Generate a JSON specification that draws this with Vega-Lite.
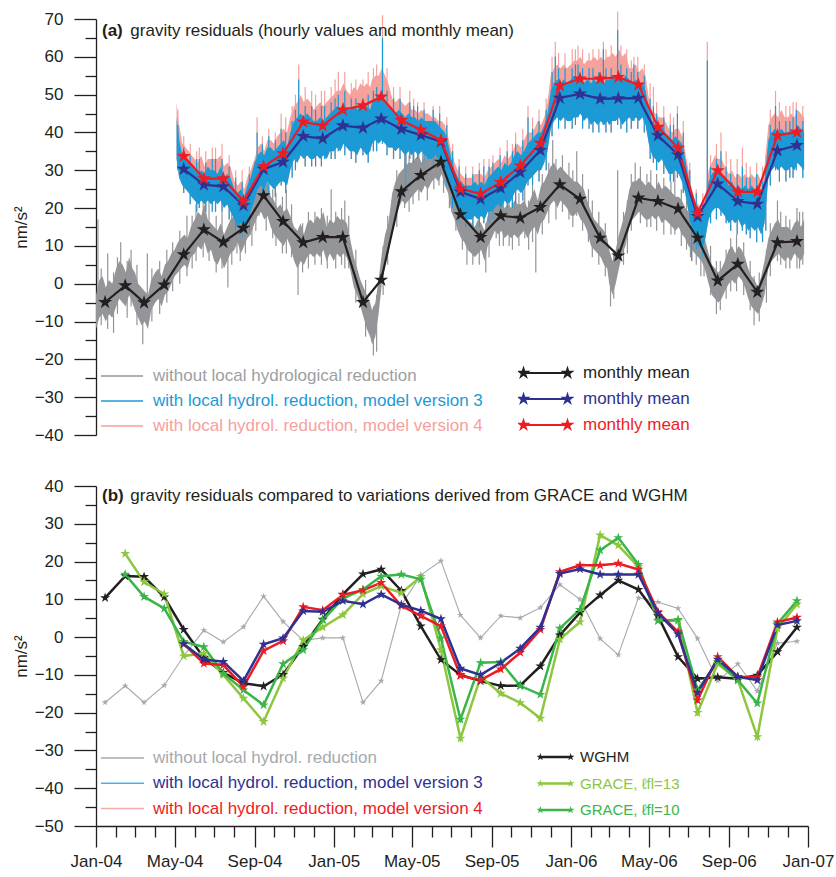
{
  "$schema": "https://vega.github.io/schema/vega-lite/v6.json",
  "background": "white",
  "padding": {"left": 12, "top": 10, "right": 5, "bottom": 5},
  "spacing": 34,
  "config": {
    "font": "Liberation Sans",
    "view": {"stroke": null},
    "axis": {
      "labelFont": "Liberation Sans", "labelFontSize": 17, "labelColor": "#231f20", "labelOverlap": false,
      "titleFont": "Liberation Sans", "titleFontSize": 17, "titleFontWeight": "normal", "titleColor": "#231f20",
      "domainColor": "#231f20", "domainWidth": 1.3, "tickColor": "#231f20", "tickWidth": 1.3, "grid": false
    },
    "legend": {"labelFont": "Liberation Sans", "labelFontSize": 17, "labelLimit": 600, "padding": 0}
  },
  "datasets": {
    "grayA": [
      {"d":"2004-01-01","lo":-12,"hi":-3},{"d":"2004-01-06","lo":-9,"hi":1},{"d":"2004-01-11","lo":-8,"hi":2},{"d":"2004-01-16","lo":-10,"hi":-1},{"d":"2004-01-21","lo":-8,"hi":1},{"d":"2004-01-26","lo":-9,"hi":0},
      {"d":"2004-02-01","lo":-6,"hi":4},{"d":"2004-02-06","lo":-4,"hi":6},{"d":"2004-02-11","lo":-5,"hi":5},{"d":"2004-02-16","lo":-6,"hi":3},{"d":"2004-02-21","lo":-3,"hi":7},{"d":"2004-02-26","lo":-5,"hi":4},
      {"d":"2004-03-01","lo":-7,"hi":3},{"d":"2004-03-06","lo":-9,"hi":0},{"d":"2004-03-11","lo":-11,"hi":-1},{"d":"2004-03-16","lo":-10,"hi":-2},{"d":"2004-03-21","lo":-12,"hi":-3},{"d":"2004-03-26","lo":-7,"hi":1},
      {"d":"2004-04-01","lo":-5,"hi":3},{"d":"2004-04-06","lo":-4,"hi":4},{"d":"2004-04-11","lo":-6,"hi":2},{"d":"2004-04-16","lo":-3,"hi":5},{"d":"2004-04-21","lo":-2,"hi":6},{"d":"2004-04-26","lo":0,"hi":8},
      {"d":"2004-05-01","lo":2,"hi":9},{"d":"2004-05-06","lo":3,"hi":11},{"d":"2004-05-11","lo":4,"hi":12},{"d":"2004-05-16","lo":5,"hi":13},{"d":"2004-05-21","lo":4,"hi":12},{"d":"2004-05-26","lo":7,"hi":15},
      {"d":"2004-06-01","lo":8,"hi":17},{"d":"2004-06-06","lo":10,"hi":19},{"d":"2004-06-11","lo":9,"hi":18},{"d":"2004-06-16","lo":11,"hi":21},{"d":"2004-06-21","lo":8,"hi":17},{"d":"2004-06-26","lo":9,"hi":16},
      {"d":"2004-07-01","lo":6,"hi":15},{"d":"2004-07-06","lo":5,"hi":14},{"d":"2004-07-11","lo":7,"hi":16},{"d":"2004-07-16","lo":4,"hi":13},{"d":"2004-07-21","lo":6,"hi":15},{"d":"2004-07-26","lo":8,"hi":17},
      {"d":"2004-08-01","lo":9,"hi":18},{"d":"2004-08-06","lo":11,"hi":20},{"d":"2004-08-11","lo":8,"hi":19},{"d":"2004-08-16","lo":10,"hi":18},{"d":"2004-08-21","lo":12,"hi":22},{"d":"2004-08-26","lo":13,"hi":21},
      {"d":"2004-09-01","lo":16,"hi":25},{"d":"2004-09-06","lo":18,"hi":27},{"d":"2004-09-11","lo":19,"hi":28},{"d":"2004-09-16","lo":17,"hi":26},{"d":"2004-09-21","lo":18,"hi":27},{"d":"2004-09-26","lo":15,"hi":23},
      {"d":"2004-10-01","lo":13,"hi":22},{"d":"2004-10-06","lo":12,"hi":20},{"d":"2004-10-11","lo":11,"hi":21},{"d":"2004-10-16","lo":10,"hi":19},{"d":"2004-10-21","lo":12,"hi":20},{"d":"2004-10-26","lo":10,"hi":18},
      {"d":"2004-11-01","lo":6,"hi":15},{"d":"2004-11-06","lo":4,"hi":14},{"d":"2004-11-11","lo":6,"hi":16},{"d":"2004-11-16","lo":5,"hi":13},{"d":"2004-11-21","lo":7,"hi":16},{"d":"2004-11-26","lo":8,"hi":17},
      {"d":"2004-12-01","lo":7,"hi":16},{"d":"2004-12-06","lo":8,"hi":18},{"d":"2004-12-11","lo":7,"hi":17},{"d":"2004-12-16","lo":9,"hi":19},{"d":"2004-12-21","lo":6,"hi":15},{"d":"2004-12-26","lo":8,"hi":17},
      {"d":"2005-01-01","lo":6,"hi":16},{"d":"2005-01-06","lo":8,"hi":18},{"d":"2005-01-11","lo":7,"hi":17},{"d":"2005-01-16","lo":8,"hi":17},{"d":"2005-01-21","lo":7,"hi":16},{"d":"2005-01-26","lo":4,"hi":12},
      {"d":"2005-02-01","lo":-1,"hi":7},{"d":"2005-02-06","lo":-3,"hi":4},{"d":"2005-02-11","lo":-6,"hi":1},{"d":"2005-02-16","lo":-9,"hi":-1},{"d":"2005-02-21","lo":-12,"hi":-3},{"d":"2005-02-26","lo":-14,"hi":-5},
      {"d":"2005-03-01","lo":-16,"hi":-7},{"d":"2005-03-06","lo":-14,"hi":-5},{"d":"2005-03-11","lo":-8,"hi":1},{"d":"2005-03-16","lo":0,"hi":8},{"d":"2005-03-21","lo":5,"hi":13},{"d":"2005-03-26","lo":8,"hi":16},
      {"d":"2005-04-01","lo":14,"hi":24},{"d":"2005-04-06","lo":18,"hi":27},{"d":"2005-04-11","lo":20,"hi":29},{"d":"2005-04-16","lo":22,"hi":30},{"d":"2005-04-21","lo":21,"hi":31},{"d":"2005-04-26","lo":22,"hi":32},
      {"d":"2005-05-01","lo":23,"hi":32},{"d":"2005-05-06","lo":24,"hi":33},{"d":"2005-05-11","lo":25,"hi":34},{"d":"2005-05-16","lo":24,"hi":32},{"d":"2005-05-21","lo":26,"hi":34},{"d":"2005-05-26","lo":25,"hi":33},
      {"d":"2005-06-01","lo":27,"hi":36},{"d":"2005-06-06","lo":28,"hi":36},{"d":"2005-06-11","lo":27,"hi":35},{"d":"2005-06-16","lo":29,"hi":37},{"d":"2005-06-21","lo":26,"hi":34},{"d":"2005-06-26","lo":24,"hi":32},
      {"d":"2005-07-01","lo":19,"hi":28},{"d":"2005-07-06","lo":17,"hi":25},{"d":"2005-07-11","lo":14,"hi":22},{"d":"2005-07-16","lo":12,"hi":20},{"d":"2005-07-21","lo":11,"hi":19},{"d":"2005-07-26","lo":9,"hi":17},
      {"d":"2005-08-01","lo":8,"hi":16},{"d":"2005-08-06","lo":7,"hi":15},{"d":"2005-08-11","lo":8,"hi":17},{"d":"2005-08-16","lo":9,"hi":16},{"d":"2005-08-21","lo":6,"hi":14},{"d":"2005-08-26","lo":10,"hi":18},
      {"d":"2005-09-01","lo":12,"hi":20},{"d":"2005-09-06","lo":14,"hi":22},{"d":"2005-09-11","lo":13,"hi":22},{"d":"2005-09-16","lo":14,"hi":21},{"d":"2005-09-21","lo":12,"hi":20},{"d":"2005-09-26","lo":13,"hi":21},
      {"d":"2005-10-01","lo":12,"hi":20},{"d":"2005-10-06","lo":13,"hi":22},{"d":"2005-10-11","lo":12,"hi":21},{"d":"2005-10-16","lo":13,"hi":21},{"d":"2005-10-21","lo":14,"hi":22},{"d":"2005-10-26","lo":12,"hi":20},
      {"d":"2005-11-01","lo":14,"hi":23},{"d":"2005-11-06","lo":15,"hi":25},{"d":"2005-11-11","lo":13,"hi":22},{"d":"2005-11-16","lo":16,"hi":26},{"d":"2005-11-21","lo":17,"hi":27},{"d":"2005-11-26","lo":19,"hi":29},
      {"d":"2005-12-01","lo":21,"hi":31},{"d":"2005-12-06","lo":22,"hi":32},{"d":"2005-12-11","lo":20,"hi":30},{"d":"2005-12-16","lo":22,"hi":31},{"d":"2005-12-21","lo":21,"hi":30},{"d":"2005-12-26","lo":20,"hi":29},
      {"d":"2006-01-01","lo":18,"hi":28},{"d":"2006-01-06","lo":18,"hi":27},{"d":"2006-01-11","lo":19,"hi":27},{"d":"2006-01-16","lo":17,"hi":26},{"d":"2006-01-21","lo":16,"hi":25},{"d":"2006-01-26","lo":14,"hi":22},
      {"d":"2006-02-01","lo":10,"hi":19},{"d":"2006-02-06","lo":9,"hi":17},{"d":"2006-02-11","lo":8,"hi":16},{"d":"2006-02-16","lo":7,"hi":15},{"d":"2006-02-21","lo":5,"hi":14},{"d":"2006-02-26","lo":4,"hi":12},
      {"d":"2006-03-01","lo":0,"hi":9},{"d":"2006-03-06","lo":-3,"hi":6},{"d":"2006-03-11","lo":0,"hi":9},{"d":"2006-03-16","lo":4,"hi":13},{"d":"2006-03-21","lo":8,"hi":16},{"d":"2006-03-26","lo":10,"hi":19},
      {"d":"2006-04-01","lo":15,"hi":25},{"d":"2006-04-06","lo":17,"hi":27},{"d":"2006-04-11","lo":18,"hi":27},{"d":"2006-04-16","lo":19,"hi":28},{"d":"2006-04-21","lo":18,"hi":27},{"d":"2006-04-26","lo":17,"hi":26},
      {"d":"2006-05-01","lo":17,"hi":27},{"d":"2006-05-06","lo":18,"hi":26},{"d":"2006-05-11","lo":17,"hi":25},{"d":"2006-05-16","lo":18,"hi":27},{"d":"2006-05-21","lo":16,"hi":25},{"d":"2006-05-26","lo":17,"hi":26},
      {"d":"2006-06-01","lo":16,"hi":25},{"d":"2006-06-06","lo":15,"hi":24},{"d":"2006-06-11","lo":14,"hi":23},{"d":"2006-06-16","lo":15,"hi":23},{"d":"2006-06-21","lo":13,"hi":22},{"d":"2006-06-26","lo":12,"hi":20},
      {"d":"2006-07-01","lo":10,"hi":19},{"d":"2006-07-06","lo":9,"hi":17},{"d":"2006-07-11","lo":8,"hi":16},{"d":"2006-07-16","lo":7,"hi":15},{"d":"2006-07-21","lo":6,"hi":14},{"d":"2006-07-26","lo":4,"hi":12},
      {"d":"2006-08-01","lo":0,"hi":8},{"d":"2006-08-06","lo":-3,"hi":5},{"d":"2006-08-11","lo":-4,"hi":4},{"d":"2006-08-16","lo":-5,"hi":3},{"d":"2006-08-21","lo":-4,"hi":4},{"d":"2006-08-26","lo":-2,"hi":6},
      {"d":"2006-09-01","lo":0,"hi":9},{"d":"2006-09-06","lo":1,"hi":10},{"d":"2006-09-11","lo":0,"hi":8},{"d":"2006-09-16","lo":2,"hi":10},{"d":"2006-09-21","lo":1,"hi":9},{"d":"2006-09-26","lo":-1,"hi":7},
      {"d":"2006-10-01","lo":-4,"hi":4},{"d":"2006-10-06","lo":-6,"hi":2},{"d":"2006-10-11","lo":-7,"hi":1},{"d":"2006-10-16","lo":-8,"hi":-1},{"d":"2006-10-21","lo":-6,"hi":2},{"d":"2006-10-26","lo":-3,"hi":6},
      {"d":"2006-11-01","lo":4,"hi":12},{"d":"2006-11-06","lo":6,"hi":14},{"d":"2006-11-11","lo":7,"hi":16},{"d":"2006-11-16","lo":8,"hi":17},{"d":"2006-11-21","lo":7,"hi":15},{"d":"2006-11-26","lo":6,"hi":15},
      {"d":"2006-12-01","lo":7,"hi":15},{"d":"2006-12-06","lo":6,"hi":14},{"d":"2006-12-11","lo":8,"hi":16},{"d":"2006-12-16","lo":7,"hi":17},{"d":"2006-12-21","lo":6,"hi":15},{"d":"2006-12-26","lo":8,"hi":17}
    ],
    "graySp": [
      {"d":"2004-01-04","lo":-6,"hi":17},{"d":"2004-01-09","lo":-11,"hi":4},{"d":"2004-01-19","lo":-12,"hi":8},{"d":"2004-01-28","lo":-13,"hi":3},{"d":"2004-02-03","lo":-8,"hi":7},{"d":"2004-02-08","lo":-2,"hi":11},
      {"d":"2004-02-18","lo":-9,"hi":6},{"d":"2004-02-24","lo":-6,"hi":9},{"d":"2004-03-04","lo":-11,"hi":5},{"d":"2004-03-13","lo":-16,"hi":-3},{"d":"2004-03-20","lo":-5,"hi":8},{"d":"2004-03-27","lo":-10,"hi":4},
      {"d":"2004-04-08","lo":-8,"hi":6},{"d":"2004-04-19","lo":-5,"hi":9},{"d":"2004-04-28","lo":-2,"hi":11},{"d":"2004-05-09","lo":0,"hi":14},{"d":"2004-05-20","lo":2,"hi":18},{"d":"2004-05-28","lo":4,"hi":18},
      {"d":"2004-06-03","lo":6,"hi":21},{"d":"2004-06-14","lo":7,"hi":23},{"d":"2004-06-23","lo":6,"hi":23},{"d":"2004-07-04","lo":3,"hi":18},{"d":"2004-07-13","lo":4,"hi":19},{"d":"2004-07-22","lo":-1,"hi":10},
      {"d":"2004-07-28","lo":5,"hi":19},{"d":"2004-08-05","lo":8,"hi":23},{"d":"2004-08-10","lo":6,"hi":22},{"d":"2004-08-18","lo":8,"hi":21},{"d":"2004-08-28","lo":10,"hi":24},{"d":"2004-09-03","lo":14,"hi":28},
      {"d":"2004-09-08","lo":18,"hi":31},{"d":"2004-09-19","lo":14,"hi":29},{"d":"2004-09-29","lo":12,"hi":25},{"d":"2004-10-04","lo":10,"hi":24},{"d":"2004-10-14","lo":8,"hi":23},{"d":"2004-10-20","lo":8,"hi":25},
      {"d":"2004-10-28","lo":7,"hi":21},{"d":"2004-11-07","lo":-3,"hi":10},{"d":"2004-11-14","lo":3,"hi":16},{"d":"2004-11-23","lo":4,"hi":19},{"d":"2004-12-03","lo":5,"hi":19},{"d":"2004-12-13","lo":5,"hi":20},
      {"d":"2004-12-22","lo":4,"hi":18},{"d":"2004-12-28","lo":8,"hi":25},{"d":"2005-01-04","lo":4,"hi":19},{"d":"2005-01-13","lo":5,"hi":20},{"d":"2005-01-18","lo":4,"hi":22},{"d":"2005-01-24","lo":4,"hi":18},
      {"d":"2005-02-04","lo":-5,"hi":9},{"d":"2005-02-19","lo":-14,"hi":1},{"d":"2005-03-03","lo":-19,"hi":-6},{"d":"2005-03-08","lo":-18,"hi":-3},{"d":"2005-03-18","lo":-3,"hi":10},{"d":"2005-03-25","lo":5,"hi":18},
      {"d":"2005-04-08","lo":15,"hi":30},{"d":"2005-04-20","lo":20,"hi":35},{"d":"2005-04-27","lo":19,"hi":34},{"d":"2005-05-03","lo":21,"hi":35},{"d":"2005-05-12","lo":22,"hi":36},{"d":"2005-05-18","lo":25,"hi":38},
      {"d":"2005-05-25","lo":22,"hi":36},{"d":"2005-06-04","lo":25,"hi":38},{"d":"2005-06-12","lo":26,"hi":39},{"d":"2005-06-19","lo":24,"hi":39},{"d":"2005-06-28","lo":20,"hi":34},{"d":"2005-07-08","lo":14,"hi":27},
      {"d":"2005-07-18","lo":9,"hi":23},{"d":"2005-07-25","lo":5,"hi":22},{"d":"2005-08-03","lo":5,"hi":18},{"d":"2005-08-13","lo":5,"hi":19},{"d":"2005-08-23","lo":3,"hi":16},{"d":"2005-08-28","lo":7,"hi":21},
      {"d":"2005-09-08","lo":12,"hi":30},{"d":"2005-09-13","lo":10,"hi":25},{"d":"2005-09-19","lo":10,"hi":24},{"d":"2005-09-28","lo":10,"hi":23},{"d":"2005-10-03","lo":9,"hi":23},{"d":"2005-10-13","lo":10,"hi":24},
      {"d":"2005-10-22","lo":12,"hi":33},{"d":"2005-10-28","lo":9,"hi":22},{"d":"2005-11-03","lo":11,"hi":26},{"d":"2005-11-08","lo":3,"hi":18},{"d":"2005-11-18","lo":13,"hi":29},{"d":"2005-11-28","lo":16,"hi":32},
      {"d":"2005-12-04","lo":22,"hi":38},{"d":"2005-12-09","lo":17,"hi":33},{"d":"2005-12-19","lo":19,"hi":34},{"d":"2005-12-29","lo":17,"hi":32},{"d":"2006-01-04","lo":15,"hi":30},{"d":"2006-01-10","lo":18,"hi":35},
      {"d":"2006-01-19","lo":14,"hi":29},{"d":"2006-01-28","lo":11,"hi":25},{"d":"2006-02-03","lo":7,"hi":22},{"d":"2006-02-13","lo":5,"hi":19},{"d":"2006-02-23","lo":2,"hi":16},{"d":"2006-03-03","lo":-6,"hi":6},
      {"d":"2006-03-08","lo":-4,"hi":9},{"d":"2006-03-14","lo":4,"hi":30},{"d":"2006-03-23","lo":5,"hi":19},{"d":"2006-03-29","lo":8,"hi":22},{"d":"2006-04-04","lo":14,"hi":29},{"d":"2006-04-10","lo":18,"hi":32},
      {"d":"2006-04-18","lo":16,"hi":31},{"d":"2006-04-28","lo":15,"hi":29},{"d":"2006-05-04","lo":15,"hi":30},{"d":"2006-05-13","lo":14,"hi":29},{"d":"2006-05-24","lo":13,"hi":28},{"d":"2006-06-04","lo":13,"hi":27},
      {"d":"2006-06-10","lo":13,"hi":30},{"d":"2006-06-20","lo":10,"hi":25},{"d":"2006-06-28","lo":9,"hi":23},{"d":"2006-07-04","lo":7,"hi":21},{"d":"2006-07-13","lo":5,"hi":19},{"d":"2006-07-20","lo":2,"hi":18},
      {"d":"2006-07-25","lo":2,"hi":15},{"d":"2006-08-04","lo":-3,"hi":10},{"d":"2006-08-13","lo":-8,"hi":6},{"d":"2006-08-19","lo":-7,"hi":6},{"d":"2006-08-28","lo":-4,"hi":9},{"d":"2006-09-04","lo":-2,"hi":12},
      {"d":"2006-09-13","lo":-2,"hi":13},{"d":"2006-09-24","lo":-3,"hi":11},{"d":"2006-10-04","lo":-7,"hi":6},{"d":"2006-10-10","lo":-11,"hi":2},{"d":"2006-10-18","lo":-10,"hi":3},{"d":"2006-10-29","lo":-5,"hi":9},
      {"d":"2006-11-04","lo":2,"hi":16},{"d":"2006-11-15","lo":6,"hi":22},{"d":"2006-11-20","lo":5,"hi":19},{"d":"2006-11-28","lo":4,"hi":18},{"d":"2006-12-04","lo":4,"hi":17},{"d":"2006-12-15","lo":4,"hi":20},
      {"d":"2006-12-19","lo":4,"hi":19},{"d":"2006-12-24","lo":5,"hi":19}
    ],
    "hydA": [
      {"d":"2004-05-04","lo":33,"hi":44,"p":48},{"d":"2004-05-08","lo":28,"hi":38,"p":42},{"d":"2004-05-13","lo":26,"hi":34,"p":37},{"d":"2004-05-18","lo":25,"hi":33,"p":36},{"d":"2004-05-23","lo":24,"hi":32,"p":35},{"d":"2004-05-27","lo":23,"hi":31,"p":34},
      {"d":"2004-06-01","lo":22,"hi":30,"p":33},{"d":"2004-06-06","lo":21,"hi":29,"p":32},{"d":"2004-06-11","lo":22,"hi":30,"p":34},{"d":"2004-06-16","lo":21,"hi":29,"p":31},{"d":"2004-06-21","lo":22,"hi":31,"p":33},{"d":"2004-06-26","lo":21,"hi":30,"p":33},
      {"d":"2004-07-01","lo":22,"hi":30,"p":33},{"d":"2004-07-06","lo":21,"hi":29,"p":33},{"d":"2004-07-11","lo":22,"hi":31,"p":34},{"d":"2004-07-16","lo":20,"hi":28,"p":31},{"d":"2004-07-21","lo":21,"hi":29,"p":32},{"d":"2004-07-26","lo":19,"hi":28,"p":31},
      {"d":"2004-08-01","lo":17,"hi":25,"p":27},{"d":"2004-08-06","lo":15,"hi":24,"p":26},{"d":"2004-08-11","lo":16,"hi":25,"p":27},{"d":"2004-08-16","lo":14,"hi":23,"p":25},{"d":"2004-08-21","lo":16,"hi":26,"p":28},{"d":"2004-08-26","lo":19,"hi":28,"p":30},
      {"d":"2004-09-01","lo":22,"hi":32,"p":33},{"d":"2004-09-06","lo":25,"hi":34,"p":36},{"d":"2004-09-11","lo":26,"hi":35,"p":37},{"d":"2004-09-16","lo":25,"hi":34,"p":35},{"d":"2004-09-21","lo":27,"hi":36,"p":38},{"d":"2004-09-26","lo":26,"hi":36,"p":38},
      {"d":"2004-10-01","lo":25,"hi":35,"p":37},{"d":"2004-10-06","lo":26,"hi":36,"p":39},{"d":"2004-10-11","lo":27,"hi":37,"p":40},{"d":"2004-10-16","lo":27,"hi":38,"p":41},{"d":"2004-10-21","lo":26,"hi":36,"p":40},{"d":"2004-10-26","lo":30,"hi":40,"p":44},
      {"d":"2004-11-01","lo":33,"hi":43,"p":47},{"d":"2004-11-06","lo":32,"hi":44,"p":48},{"d":"2004-11-11","lo":34,"hi":45,"p":50},{"d":"2004-11-16","lo":33,"hi":44,"p":48},{"d":"2004-11-21","lo":34,"hi":45,"p":49},{"d":"2004-11-26","lo":33,"hi":44,"p":48},
      {"d":"2004-12-01","lo":33,"hi":43,"p":46},{"d":"2004-12-06","lo":34,"hi":43,"p":47},{"d":"2004-12-11","lo":33,"hi":44,"p":48},{"d":"2004-12-16","lo":34,"hi":43,"p":47},{"d":"2004-12-21","lo":33,"hi":44,"p":48},{"d":"2004-12-26","lo":35,"hi":45,"p":49},
      {"d":"2005-01-01","lo":35,"hi":46,"p":50},{"d":"2005-01-06","lo":36,"hi":47,"p":51},{"d":"2005-01-11","lo":35,"hi":46,"p":51},{"d":"2005-01-16","lo":37,"hi":48,"p":53},{"d":"2005-01-21","lo":36,"hi":46,"p":51},{"d":"2005-01-26","lo":35,"hi":46,"p":50},
      {"d":"2005-02-01","lo":35,"hi":47,"p":52},{"d":"2005-02-06","lo":34,"hi":46,"p":51},{"d":"2005-02-11","lo":36,"hi":47,"p":53},{"d":"2005-02-16","lo":35,"hi":46,"p":52},{"d":"2005-02-21","lo":34,"hi":47,"p":53},{"d":"2005-02-26","lo":35,"hi":46,"p":52},
      {"d":"2005-03-01","lo":37,"hi":48,"p":54},{"d":"2005-03-06","lo":38,"hi":49,"p":55},{"d":"2005-03-11","lo":37,"hi":48,"p":55},{"d":"2005-03-16","lo":38,"hi":50,"p":57},{"d":"2005-03-21","lo":37,"hi":48,"p":55},{"d":"2005-03-26","lo":36,"hi":47,"p":53},
      {"d":"2005-04-01","lo":36,"hi":46,"p":49},{"d":"2005-04-06","lo":35,"hi":45,"p":48},{"d":"2005-04-11","lo":36,"hi":46,"p":49},{"d":"2005-04-16","lo":35,"hi":45,"p":48},{"d":"2005-04-21","lo":34,"hi":44,"p":47},{"d":"2005-04-26","lo":35,"hi":45,"p":48},
      {"d":"2005-05-01","lo":34,"hi":44,"p":46},{"d":"2005-05-06","lo":35,"hi":44,"p":46},{"d":"2005-05-11","lo":34,"hi":43,"p":45},{"d":"2005-05-16","lo":35,"hi":44,"p":46},{"d":"2005-05-21","lo":34,"hi":43,"p":45},{"d":"2005-05-26","lo":33,"hi":43,"p":45},
      {"d":"2005-06-01","lo":33,"hi":43,"p":44},{"d":"2005-06-06","lo":34,"hi":43,"p":44},{"d":"2005-06-11","lo":33,"hi":42,"p":43},{"d":"2005-06-16","lo":32,"hi":41,"p":43},{"d":"2005-06-21","lo":30,"hi":40,"p":42},{"d":"2005-06-26","lo":27,"hi":37,"p":39},
      {"d":"2005-07-01","lo":24,"hi":33,"p":35},{"d":"2005-07-06","lo":21,"hi":30,"p":32},{"d":"2005-07-11","lo":19,"hi":28,"p":30},{"d":"2005-07-16","lo":18,"hi":27,"p":29},{"d":"2005-07-21","lo":17,"hi":26,"p":28},{"d":"2005-07-26","lo":17,"hi":26,"p":28},
      {"d":"2005-08-01","lo":17,"hi":26,"p":28},{"d":"2005-08-06","lo":18,"hi":27,"p":29},{"d":"2005-08-11","lo":17,"hi":26,"p":29},{"d":"2005-08-16","lo":18,"hi":27,"p":29},{"d":"2005-08-21","lo":17,"hi":26,"p":28},{"d":"2005-08-26","lo":19,"hi":28,"p":30},
      {"d":"2005-09-01","lo":19,"hi":29,"p":31},{"d":"2005-09-06","lo":20,"hi":30,"p":32},{"d":"2005-09-11","lo":21,"hi":31,"p":33},{"d":"2005-09-16","lo":20,"hi":30,"p":32},{"d":"2005-09-21","lo":22,"hi":32,"p":34},{"d":"2005-09-26","lo":21,"hi":31,"p":33},
      {"d":"2005-10-01","lo":22,"hi":32,"p":34},{"d":"2005-10-06","lo":24,"hi":34,"p":36},{"d":"2005-10-11","lo":25,"hi":35,"p":37},{"d":"2005-10-16","lo":24,"hi":34,"p":36},{"d":"2005-10-21","lo":25,"hi":35,"p":38},{"d":"2005-10-26","lo":27,"hi":37,"p":40},
      {"d":"2005-11-01","lo":28,"hi":38,"p":40},{"d":"2005-11-06","lo":29,"hi":39,"p":41},{"d":"2005-11-11","lo":30,"hi":40,"p":43},{"d":"2005-11-16","lo":30,"hi":40,"p":42},{"d":"2005-11-21","lo":32,"hi":42,"p":44},{"d":"2005-11-26","lo":35,"hi":45,"p":48},
      {"d":"2005-12-01","lo":41,"hi":51,"p":55},{"d":"2005-12-06","lo":43,"hi":53,"p":57},{"d":"2005-12-11","lo":44,"hi":54,"p":58},{"d":"2005-12-16","lo":43,"hi":53,"p":57},{"d":"2005-12-21","lo":44,"hi":54,"p":58},{"d":"2005-12-26","lo":43,"hi":53,"p":57},
      {"d":"2006-01-01","lo":43,"hi":54,"p":58},{"d":"2006-01-06","lo":44,"hi":55,"p":59},{"d":"2006-01-11","lo":44,"hi":54,"p":59},{"d":"2006-01-16","lo":45,"hi":55,"p":60},{"d":"2006-01-21","lo":43,"hi":53,"p":58},{"d":"2006-01-26","lo":44,"hi":54,"p":59},
      {"d":"2006-02-01","lo":42,"hi":53,"p":59},{"d":"2006-02-06","lo":43,"hi":54,"p":60},{"d":"2006-02-11","lo":42,"hi":53,"p":59},{"d":"2006-02-16","lo":43,"hi":54,"p":60},{"d":"2006-02-21","lo":42,"hi":53,"p":59},{"d":"2006-02-26","lo":43,"hi":54,"p":60},
      {"d":"2006-03-01","lo":42,"hi":54,"p":60},{"d":"2006-03-06","lo":43,"hi":55,"p":61},{"d":"2006-03-11","lo":43,"hi":54,"p":60},{"d":"2006-03-16","lo":44,"hi":56,"p":62},{"d":"2006-03-21","lo":42,"hi":54,"p":60},{"d":"2006-03-26","lo":43,"hi":55,"p":61},
      {"d":"2006-04-01","lo":44,"hi":54,"p":57},{"d":"2006-04-06","lo":43,"hi":53,"p":57},{"d":"2006-04-11","lo":44,"hi":54,"p":58},{"d":"2006-04-16","lo":43,"hi":53,"p":56},{"d":"2006-04-21","lo":44,"hi":53,"p":57},{"d":"2006-04-26","lo":42,"hi":51,"p":55},
      {"d":"2006-05-01","lo":37,"hi":46,"p":49},{"d":"2006-05-06","lo":34,"hi":43,"p":46},{"d":"2006-05-11","lo":33,"hi":42,"p":45},{"d":"2006-05-16","lo":32,"hi":41,"p":44},{"d":"2006-05-21","lo":33,"hi":42,"p":44},{"d":"2006-05-26","lo":31,"hi":40,"p":43},
      {"d":"2006-06-01","lo":29,"hi":39,"p":41},{"d":"2006-06-06","lo":29,"hi":38,"p":40},{"d":"2006-06-11","lo":30,"hi":39,"p":41},{"d":"2006-06-16","lo":29,"hi":38,"p":41},{"d":"2006-06-21","lo":27,"hi":37,"p":39},{"d":"2006-06-26","lo":24,"hi":33,"p":35},
      {"d":"2006-07-01","lo":19,"hi":28,"p":30},{"d":"2006-07-06","lo":14,"hi":23,"p":25},{"d":"2006-07-11","lo":12,"hi":21,"p":22},{"d":"2006-07-16","lo":10,"hi":19,"p":21},{"d":"2006-07-21","lo":9,"hi":18,"p":20},{"d":"2006-07-26","lo":11,"hi":21,"p":22},
      {"d":"2006-08-01","lo":17,"hi":27,"p":30},{"d":"2006-08-06","lo":19,"hi":29,"p":32},{"d":"2006-08-11","lo":20,"hi":30,"p":34},{"d":"2006-08-16","lo":20,"hi":30,"p":33},{"d":"2006-08-21","lo":19,"hi":29,"p":33},{"d":"2006-08-26","lo":18,"hi":28,"p":31},
      {"d":"2006-09-01","lo":16,"hi":26,"p":29},{"d":"2006-09-06","lo":17,"hi":27,"p":30},{"d":"2006-09-11","lo":16,"hi":25,"p":28},{"d":"2006-09-16","lo":17,"hi":26,"p":29},{"d":"2006-09-21","lo":15,"hi":25,"p":28},{"d":"2006-09-26","lo":16,"hi":26,"p":29},
      {"d":"2006-10-01","lo":14,"hi":25,"p":28},{"d":"2006-10-06","lo":15,"hi":26,"p":29},{"d":"2006-10-11","lo":14,"hi":25,"p":28},{"d":"2006-10-16","lo":15,"hi":26,"p":29},{"d":"2006-10-21","lo":13,"hi":24,"p":27},{"d":"2006-10-26","lo":16,"hi":27,"p":31},
      {"d":"2006-11-01","lo":28,"hi":38,"p":42},{"d":"2006-11-06","lo":30,"hi":40,"p":44},{"d":"2006-11-11","lo":31,"hi":41,"p":45},{"d":"2006-11-16","lo":30,"hi":40,"p":44},{"d":"2006-11-21","lo":31,"hi":41,"p":46},{"d":"2006-11-26","lo":30,"hi":40,"p":44},
      {"d":"2006-12-01","lo":30,"hi":40,"p":44},{"d":"2006-12-06","lo":31,"hi":41,"p":45},{"d":"2006-12-11","lo":30,"hi":40,"p":44},{"d":"2006-12-16","lo":32,"hi":42,"p":46},{"d":"2006-12-21","lo":31,"hi":41,"p":45},{"d":"2006-12-26","lo":30,"hi":40,"p":44}
    ],
    "hydSp": [
      {"d":"2004-05-06","lo":30,"hi":42,"p":46},{"d":"2004-05-15","lo":24,"hi":36,"p":39},{"d":"2004-05-25","lo":21,"hi":34,"p":37},{"d":"2004-06-04","lo":19,"hi":33,"p":35},{"d":"2004-06-08","lo":20,"hi":33,"p":36},
      {"d":"2004-06-18","lo":19,"hi":32,"p":35},{"d":"2004-06-28","lo":19,"hi":33,"p":36},{"d":"2004-07-03","lo":19,"hi":33,"p":36},{"d":"2004-07-13","lo":19,"hi":33,"p":37},{"d":"2004-07-24","lo":17,"hi":31,"p":34},
      {"d":"2004-08-03","lo":14,"hi":28,"p":30},{"d":"2004-08-13","lo":12,"hi":27,"p":30},{"d":"2004-08-24","lo":14,"hi":29,"p":31},{"d":"2004-09-05","lo":26,"hi":40,"p":44},{"d":"2004-09-13","lo":23,"hi":37,"p":39},
      {"d":"2004-09-23","lo":24,"hi":39,"p":41},{"d":"2004-10-03","lo":23,"hi":38,"p":40},{"d":"2004-10-12","lo":26,"hi":41,"p":45},{"d":"2004-10-19","lo":24,"hi":40,"p":44},{"d":"2004-10-29","lo":28,"hi":43,"p":47},
      {"d":"2004-11-03","lo":30,"hi":46,"p":50},{"d":"2004-11-08","lo":33,"hi":54,"p":58},{"d":"2004-11-18","lo":31,"hi":47,"p":52},{"d":"2004-11-28","lo":31,"hi":47,"p":51},{"d":"2004-12-04","lo":31,"hi":46,"p":50},
      {"d":"2004-12-13","lo":31,"hi":47,"p":51},{"d":"2004-12-18","lo":33,"hi":47,"p":51},{"d":"2004-12-28","lo":33,"hi":48,"p":52},{"d":"2005-01-03","lo":33,"hi":49,"p":54},{"d":"2005-01-08","lo":35,"hi":50,"p":56},
      {"d":"2005-01-18","lo":34,"hi":51,"p":56},{"d":"2005-01-28","lo":33,"hi":49,"p":53},{"d":"2005-02-04","lo":32,"hi":49,"p":54},{"d":"2005-02-15","lo":34,"hi":49,"p":54},{"d":"2005-02-23","lo":32,"hi":50,"p":56},
      {"d":"2005-03-03","lo":35,"hi":51,"p":57},{"d":"2005-03-08","lo":35,"hi":52,"p":58},{"d":"2005-03-17","lo":37,"hi":65,"p":71},{"d":"2005-03-24","lo":34,"hi":51,"p":57},{"d":"2005-04-03","lo":33,"hi":49,"p":52},
      {"d":"2005-04-13","lo":33,"hi":49,"p":52},{"d":"2005-04-22","lo":24,"hi":36,"p":38},{"d":"2005-04-28","lo":33,"hi":48,"p":51},{"d":"2005-05-04","lo":32,"hi":47,"p":49},{"d":"2005-05-10","lo":33,"hi":47,"p":48},
      {"d":"2005-05-20","lo":32,"hi":46,"p":48},{"d":"2005-06-03","lo":31,"hi":46,"p":47},{"d":"2005-06-13","lo":31,"hi":45,"p":47},{"d":"2005-06-24","lo":26,"hi":42,"p":44},{"d":"2005-07-03","lo":20,"hi":35,"p":37},
      {"d":"2005-07-13","lo":16,"hi":31,"p":33},{"d":"2005-07-23","lo":15,"hi":29,"p":31},{"d":"2005-08-03","lo":15,"hi":29,"p":31},{"d":"2005-08-13","lo":15,"hi":30,"p":32},{"d":"2005-08-20","lo":16,"hi":31,"p":33},
      {"d":"2005-08-28","lo":16,"hi":31,"p":33},{"d":"2005-09-03","lo":17,"hi":32,"p":34},{"d":"2005-09-14","lo":18,"hi":34,"p":36},{"d":"2005-09-25","lo":20,"hi":35,"p":38},{"d":"2005-10-03","lo":20,"hi":35,"p":37},
      {"d":"2005-10-08","lo":21,"hi":37,"p":40},{"d":"2005-10-19","lo":22,"hi":38,"p":41},{"d":"2005-10-27","lo":26,"hi":44,"p":47},{"d":"2005-11-03","lo":26,"hi":41,"p":44},{"d":"2005-11-13","lo":27,"hi":43,"p":46},
      {"d":"2005-11-24","lo":30,"hi":46,"p":49},{"d":"2005-12-03","lo":39,"hi":56,"p":60},{"d":"2005-12-08","lo":44,"hi":60,"p":64},{"d":"2005-12-13","lo":41,"hi":57,"p":61},{"d":"2005-12-23","lo":41,"hi":57,"p":61},
      {"d":"2006-01-03","lo":41,"hi":57,"p":62},{"d":"2006-01-08","lo":42,"hi":58,"p":62},{"d":"2006-01-12","lo":44,"hi":58,"p":63},{"d":"2006-01-19","lo":41,"hi":57,"p":62},{"d":"2006-01-29","lo":41,"hi":57,"p":61},
      {"d":"2006-02-04","lo":40,"hi":57,"p":62},{"d":"2006-02-13","lo":40,"hi":56,"p":62},{"d":"2006-02-20","lo":42,"hi":62,"p":64},{"d":"2006-02-24","lo":40,"hi":57,"p":62},{"d":"2006-03-04","lo":40,"hi":57,"p":63},
      {"d":"2006-03-14","lo":42,"hi":67,"p":72},{"d":"2006-03-19","lo":41,"hi":58,"p":63},{"d":"2006-03-28","lo":40,"hi":57,"p":62},{"d":"2006-04-04","lo":41,"hi":56,"p":59},{"d":"2006-04-08","lo":43,"hi":58,"p":60},
      {"d":"2006-04-14","lo":41,"hi":56,"p":60},{"d":"2006-04-24","lo":40,"hi":55,"p":58},{"d":"2006-05-03","lo":33,"hi":49,"p":53},{"d":"2006-05-08","lo":32,"hi":47,"p":52},{"d":"2006-05-13","lo":30,"hi":45,"p":48},
      {"d":"2006-05-24","lo":29,"hi":44,"p":47},{"d":"2006-06-03","lo":27,"hi":42,"p":45},{"d":"2006-06-08","lo":27,"hi":42,"p":44},{"d":"2006-06-14","lo":28,"hi":45,"p":47},{"d":"2006-06-23","lo":24,"hi":40,"p":43},
      {"d":"2006-07-03","lo":16,"hi":30,"p":32},{"d":"2006-07-06","lo":6,"hi":20,"p":22},{"d":"2006-07-13","lo":9,"hi":24,"p":25},{"d":"2006-07-23","lo":7,"hi":22,"p":24},{"d":"2006-07-30","lo":17,"hi":59,"p":64},
      {"d":"2006-08-04","lo":16,"hi":31,"p":34},{"d":"2006-08-13","lo":17,"hi":33,"p":37},{"d":"2006-08-20","lo":18,"hi":35,"p":40},{"d":"2006-08-28","lo":16,"hi":31,"p":35},{"d":"2006-09-04","lo":14,"hi":29,"p":33},
      {"d":"2006-09-14","lo":13,"hi":29,"p":33},{"d":"2006-09-22","lo":14,"hi":31,"p":36},{"d":"2006-09-28","lo":13,"hi":28,"p":32},{"d":"2006-10-04","lo":12,"hi":28,"p":31},{"d":"2006-10-14","lo":11,"hi":29,"p":32},
      {"d":"2006-10-23","lo":11,"hi":27,"p":31},{"d":"2006-10-28","lo":14,"hi":30,"p":34},{"d":"2006-11-04","lo":26,"hi":42,"p":46},{"d":"2006-11-12","lo":30,"hi":47,"p":51},{"d":"2006-11-18","lo":27,"hi":43,"p":48},
      {"d":"2006-11-28","lo":27,"hi":43,"p":47},{"d":"2006-12-04","lo":28,"hi":43,"p":47},{"d":"2006-12-09","lo":28,"hi":44,"p":48},{"d":"2006-12-14","lo":30,"hi":46,"p":48},{"d":"2006-12-24","lo":28,"hi":43,"p":47}
    ],
    "mmA": [
      {"d":"2004-01-15","s":"n","v":-4.9},{"d":"2004-02-15","s":"n","v":-0.5},{"d":"2004-03-15","s":"n","v":-5},{"d":"2004-04-15","s":"n","v":-0.3},{"d":"2004-05-15","s":"n","v":7.7},{"d":"2004-06-15","s":"n","v":14.3},
      {"d":"2004-07-15","s":"n","v":11},{"d":"2004-08-15","s":"n","v":14.7},{"d":"2004-09-15","s":"n","v":23.3},{"d":"2004-10-15","s":"n","v":16.5},{"d":"2004-11-15","s":"n","v":10.9},{"d":"2004-12-15","s":"n","v":12.3},
      {"d":"2005-01-15","s":"n","v":12.3},{"d":"2005-02-15","s":"n","v":-4.9},{"d":"2005-03-15","s":"n","v":1},{"d":"2005-04-15","s":"n","v":24.4},{"d":"2005-05-15","s":"n","v":28.7},{"d":"2005-06-15","s":"n","v":32.2},
      {"d":"2005-07-15","s":"n","v":18.3},{"d":"2005-08-15","s":"n","v":12.3},{"d":"2005-09-15","s":"n","v":18},{"d":"2005-10-15","s":"n","v":17.4},{"d":"2005-11-15","s":"n","v":20.2},{"d":"2005-12-15","s":"n","v":26.2},
      {"d":"2006-01-15","s":"n","v":22.4},{"d":"2006-02-15","s":"n","v":12.1},{"d":"2006-03-15","s":"n","v":7.4},{"d":"2006-04-15","s":"n","v":22.7},{"d":"2006-05-15","s":"n","v":21.8},{"d":"2006-06-15","s":"n","v":19.8},
      {"d":"2006-07-15","s":"n","v":12.1},{"d":"2006-08-15","s":"n","v":0.8},{"d":"2006-09-15","s":"n","v":5.2},{"d":"2006-10-15","s":"n","v":-2.2},{"d":"2006-11-15","s":"n","v":10.9},{"d":"2006-12-15","s":"n","v":11.2},
      {"d":"2004-05-15","s":"b","v":30.3},{"d":"2004-06-15","s":"b","v":26.2},{"d":"2004-07-15","s":"b","v":25.7},{"d":"2004-08-15","s":"b","v":20.7},{"d":"2004-09-15","s":"b","v":30.3},{"d":"2004-10-15","s":"b","v":32.2},
      {"d":"2004-11-15","s":"b","v":39},{"d":"2004-12-15","s":"b","v":38.4},{"d":"2005-01-15","s":"b","v":41.8},{"d":"2005-02-15","s":"b","v":41.2},{"d":"2005-03-15","s":"b","v":43.6},{"d":"2005-04-15","s":"b","v":40.9},
      {"d":"2005-05-15","s":"b","v":39.3},{"d":"2005-06-15","s":"b","v":37.6},{"d":"2005-07-15","s":"b","v":24.3},{"d":"2005-08-15","s":"b","v":22.4},{"d":"2005-09-15","s":"b","v":25.3},{"d":"2005-10-15","s":"b","v":29.5},
      {"d":"2005-11-15","s":"b","v":35.3},{"d":"2005-12-15","s":"b","v":49.1},{"d":"2006-01-15","s":"b","v":50.2},{"d":"2006-02-15","s":"b","v":48.9},{"d":"2006-03-15","s":"b","v":49},{"d":"2006-04-15","s":"b","v":49.1},
      {"d":"2006-05-15","s":"b","v":39.2},{"d":"2006-06-15","s":"b","v":34.1},{"d":"2006-07-15","s":"b","v":17.8},{"d":"2006-08-15","s":"b","v":26.4},{"d":"2006-09-15","s":"b","v":21.8},{"d":"2006-10-15","s":"b","v":21.1},
      {"d":"2006-11-15","s":"b","v":35.2},{"d":"2006-12-15","s":"b","v":36.6},
      {"d":"2004-05-15","s":"r","v":33.7},{"d":"2004-06-15","s":"r","v":27.8},{"d":"2004-07-15","s":"r","v":27.8},{"d":"2004-08-15","s":"r","v":21.8},{"d":"2004-09-15","s":"r","v":31},{"d":"2004-10-15","s":"r","v":34.4},
      {"d":"2004-11-15","s":"r","v":42.8},{"d":"2004-12-15","s":"r","v":41.8},{"d":"2005-01-15","s":"r","v":46},{"d":"2005-02-15","s":"r","v":47.1},{"d":"2005-03-15","s":"r","v":49.4},{"d":"2005-04-15","s":"r","v":43.2},
      {"d":"2005-05-15","s":"r","v":40.7},{"d":"2005-06-15","s":"r","v":37.9},{"d":"2005-07-15","s":"r","v":25.1},{"d":"2005-08-15","s":"r","v":23.8},{"d":"2005-09-15","s":"r","v":26.8},{"d":"2005-10-15","s":"r","v":31.2},
      {"d":"2005-11-15","s":"r","v":37.2},{"d":"2005-12-15","s":"r","v":52.4},{"d":"2006-01-15","s":"r","v":54.2},{"d":"2006-02-15","s":"r","v":54.2},{"d":"2006-03-15","s":"r","v":54.6},{"d":"2006-04-15","s":"r","v":52.6},
      {"d":"2006-05-15","s":"r","v":41.4},{"d":"2006-06-15","s":"r","v":35.9},{"d":"2006-07-15","s":"r","v":18.7},{"d":"2006-08-15","s":"r","v":29.9},{"d":"2006-09-15","s":"r","v":24.3},{"d":"2006-10-15","s":"r","v":24.3},
      {"d":"2006-11-15","s":"r","v":39.2},{"d":"2006-12-15","s":"r","v":40.1}
    ],
    "mmB": [
      {"d":"2004-01-15","s":"g","v":-17.3},{"d":"2004-02-15","s":"g","v":-12.9},{"d":"2004-03-15","s":"g","v":-17.3},{"d":"2004-04-15","s":"g","v":-12.8},{"d":"2004-05-15","s":"g","v":-5},{"d":"2004-06-15","s":"g","v":1.8},
      {"d":"2004-07-15","s":"g","v":-1.3},{"d":"2004-08-15","s":"g","v":2.7},{"d":"2004-09-15","s":"g","v":10.8},{"d":"2004-10-15","s":"g","v":4.1},{"d":"2004-11-15","s":"g","v":-0.9},{"d":"2004-12-15","s":"g","v":-0.2},
      {"d":"2005-01-15","s":"g","v":-0.2},{"d":"2005-02-15","s":"g","v":-17.3},{"d":"2005-03-15","s":"g","v":-11.6},{"d":"2005-04-15","s":"g","v":8.5},{"d":"2005-05-15","s":"g","v":16.4},{"d":"2005-06-15","s":"g","v":20.2},
      {"d":"2005-07-15","s":"g","v":5.8},{"d":"2005-08-15","s":"g","v":-0.2},{"d":"2005-09-15","s":"g","v":5.6},{"d":"2005-10-15","s":"g","v":5.1},{"d":"2005-11-15","s":"g","v":7.8},{"d":"2005-12-15","s":"g","v":13.9},
      {"d":"2006-01-15","s":"g","v":10},{"d":"2006-02-15","s":"g","v":-0.4},{"d":"2006-03-15","s":"g","v":-4.7},{"d":"2006-04-15","s":"g","v":10.4},{"d":"2006-05-15","s":"g","v":9.3},{"d":"2006-06-15","s":"g","v":7.6},
      {"d":"2006-07-15","s":"g","v":-0.4},{"d":"2006-08-15","s":"g","v":-11.5},{"d":"2006-09-15","s":"g","v":-7.1},{"d":"2006-10-15","s":"g","v":-14.3},{"d":"2006-11-15","s":"g","v":-1.6},{"d":"2006-12-15","s":"g","v":-1.1},
      {"d":"2004-01-15","s":"w","v":10.4},{"d":"2004-02-15","s":"w","v":16.2},{"d":"2004-03-15","s":"w","v":16},{"d":"2004-04-15","s":"w","v":10.6},{"d":"2004-05-15","s":"w","v":2},{"d":"2004-06-15","s":"w","v":-5.5},
      {"d":"2004-07-15","s":"w","v":-9.4},{"d":"2004-08-15","s":"w","v":-12.2},{"d":"2004-09-15","s":"w","v":-13},{"d":"2004-10-15","s":"w","v":-9.9},{"d":"2004-11-15","s":"w","v":-2.5},{"d":"2004-12-15","s":"w","v":4.7},
      {"d":"2005-01-15","s":"w","v":11.3},{"d":"2005-02-15","s":"w","v":16.7},{"d":"2005-03-15","s":"w","v":17.9},{"d":"2005-04-15","s":"w","v":12.3},{"d":"2005-05-15","s":"w","v":2.9},{"d":"2005-06-15","s":"w","v":-6},
      {"d":"2005-07-15","s":"w","v":-10},{"d":"2005-08-15","s":"w","v":-11.6},{"d":"2005-09-15","s":"w","v":-12.9},{"d":"2005-10-15","s":"w","v":-12.8},{"d":"2005-11-15","s":"w","v":-7.7},{"d":"2005-12-15","s":"w","v":0.5},
      {"d":"2006-01-15","s":"w","v":6.5},{"d":"2006-02-15","s":"w","v":11.1},{"d":"2006-03-15","s":"w","v":15},{"d":"2006-04-15","s":"w","v":12.6},{"d":"2006-05-15","s":"w","v":5.6},{"d":"2006-06-15","s":"w","v":-5.2},
      {"d":"2006-07-15","s":"w","v":-11},{"d":"2006-08-15","s":"w","v":-10.6},{"d":"2006-09-15","s":"w","v":-11},{"d":"2006-10-15","s":"w","v":-10.1},{"d":"2006-11-15","s":"w","v":-3.9},{"d":"2006-12-15","s":"w","v":2.6},
      {"d":"2004-02-15","s":"l","v":22.1},{"d":"2004-03-15","s":"l","v":14.6},{"d":"2004-04-15","s":"l","v":11.4},{"d":"2004-05-15","s":"l","v":-5},{"d":"2004-06-15","s":"l","v":-4.3},
      {"d":"2004-07-15","s":"l","v":-10},{"d":"2004-08-15","s":"l","v":-16.2},{"d":"2004-09-15","s":"l","v":-22.4},{"d":"2004-10-15","s":"l","v":-10.9},{"d":"2004-11-15","s":"l","v":-0.8},{"d":"2004-12-15","s":"l","v":2.6},
      {"d":"2005-01-15","s":"l","v":5.9},{"d":"2005-02-15","s":"l","v":11.4},{"d":"2005-03-15","s":"l","v":13.5},{"d":"2005-04-15","s":"l","v":11.7},{"d":"2005-05-15","s":"l","v":16},{"d":"2005-06-15","s":"l","v":-3.4},
      {"d":"2005-07-15","s":"l","v":-26.8},{"d":"2005-08-15","s":"l","v":-10.5},{"d":"2005-09-15","s":"l","v":-14.9},{"d":"2005-10-15","s":"l","v":-17.4},{"d":"2005-11-15","s":"l","v":-21.5},{"d":"2005-12-15","s":"l","v":-0.6},
      {"d":"2006-01-15","s":"l","v":4},{"d":"2006-02-15","s":"l","v":27},{"d":"2006-03-15","s":"l","v":24.3},{"d":"2006-04-15","s":"l","v":18.6},{"d":"2006-05-15","s":"l","v":4.4},{"d":"2006-06-15","s":"l","v":4.3},
      {"d":"2006-07-15","s":"l","v":-20},{"d":"2006-08-15","s":"l","v":-7},{"d":"2006-09-15","s":"l","v":-11.4},{"d":"2006-10-15","s":"l","v":-26.4},{"d":"2006-11-15","s":"l","v":2.3},{"d":"2006-12-15","s":"l","v":8.7},
      {"d":"2004-02-15","s":"k","v":16.6},{"d":"2004-03-15","s":"k","v":10.7},{"d":"2004-04-15","s":"k","v":7.6},{"d":"2004-05-15","s":"k","v":-1.2},{"d":"2004-06-15","s":"k","v":-2.6},
      {"d":"2004-07-15","s":"k","v":-9.6},{"d":"2004-08-15","s":"k","v":-14},{"d":"2004-09-15","s":"k","v":-18},{"d":"2004-10-15","s":"k","v":-7.1},{"d":"2004-11-15","s":"k","v":-3.4},{"d":"2004-12-15","s":"k","v":4.5},
      {"d":"2005-01-15","s":"k","v":10.2},{"d":"2005-02-15","s":"k","v":12.6},{"d":"2005-03-15","s":"k","v":16.1},{"d":"2005-04-15","s":"k","v":16.6},{"d":"2005-05-15","s":"k","v":15.3},{"d":"2005-06-15","s":"k","v":-0.3},
      {"d":"2005-07-15","s":"k","v":-21.8},{"d":"2005-08-15","s":"k","v":-6.8},{"d":"2005-09-15","s":"k","v":-6.6},{"d":"2005-10-15","s":"k","v":-12.9},{"d":"2005-11-15","s":"k","v":-15.2},{"d":"2005-12-15","s":"k","v":2.3},
      {"d":"2006-01-15","s":"k","v":7.3},{"d":"2006-02-15","s":"k","v":23},{"d":"2006-03-15","s":"k","v":26.3},{"d":"2006-04-15","s":"k","v":19.2},{"d":"2006-05-15","s":"k","v":4.3},{"d":"2006-06-15","s":"k","v":4.6},
      {"d":"2006-07-15","s":"k","v":-14},{"d":"2006-08-15","s":"k","v":-6.5},{"d":"2006-09-15","s":"k","v":-11.4},{"d":"2006-10-15","s":"k","v":-17.5},{"d":"2006-11-15","s":"k","v":3.6},{"d":"2006-12-15","s":"k","v":9.6},
      {"d":"2004-05-15","s":"r","v":-1.8},{"d":"2004-06-15","s":"r","v":-7},{"d":"2004-07-15","s":"r","v":-7.4},{"d":"2004-08-15","s":"r","v":-13.1},{"d":"2004-09-15","s":"r","v":-3.6},{"d":"2004-10-15","s":"r","v":-1},
      {"d":"2004-11-15","s":"r","v":8},{"d":"2004-12-15","s":"r","v":7.1},{"d":"2005-01-15","s":"r","v":11.2},{"d":"2005-02-15","s":"r","v":12.4},{"d":"2005-03-15","s":"r","v":14.4},{"d":"2005-04-15","s":"r","v":8.3},
      {"d":"2005-05-15","s":"r","v":5.6},{"d":"2005-06-15","s":"r","v":2.9},{"d":"2005-07-15","s":"r","v":-10.2},{"d":"2005-08-15","s":"r","v":-11.4},{"d":"2005-09-15","s":"r","v":-8.5},{"d":"2005-10-15","s":"r","v":-4.1},
      {"d":"2005-11-15","s":"r","v":2},{"d":"2005-12-15","s":"r","v":17.3},{"d":"2006-01-15","s":"r","v":19},{"d":"2006-02-15","s":"r","v":19},{"d":"2006-03-15","s":"r","v":19.5},{"d":"2006-04-15","s":"r","v":17.9},
      {"d":"2006-05-15","s":"r","v":6.7},{"d":"2006-06-15","s":"r","v":1.4},{"d":"2006-07-15","s":"r","v":-16.7},{"d":"2006-08-15","s":"r","v":-5.2},{"d":"2006-09-15","s":"r","v":-10.5},{"d":"2006-10-15","s":"r","v":-10.6},
      {"d":"2006-11-15","s":"r","v":4},{"d":"2006-12-15","s":"r","v":5.2},
      {"d":"2004-05-15","s":"b","v":-1.8},{"d":"2004-06-15","s":"b","v":-5.9},{"d":"2004-07-15","s":"b","v":-6.5},{"d":"2004-08-15","s":"b","v":-11.6},{"d":"2004-09-15","s":"b","v":-1.9},{"d":"2004-10-15","s":"b","v":-0.3},
      {"d":"2004-11-15","s":"b","v":6.9},{"d":"2004-12-15","s":"b","v":6.7},{"d":"2005-01-15","s":"b","v":9.6},{"d":"2005-02-15","s":"b","v":8.7},{"d":"2005-03-15","s":"b","v":11.3},{"d":"2005-04-15","s":"b","v":8.6},
      {"d":"2005-05-15","s":"b","v":7},{"d":"2005-06-15","s":"b","v":4.8},{"d":"2005-07-15","s":"b","v":-8.3},{"d":"2005-08-15","s":"b","v":-10},{"d":"2005-09-15","s":"b","v":-6.8},{"d":"2005-10-15","s":"b","v":-3},
      {"d":"2005-11-15","s":"b","v":2.6},{"d":"2005-12-15","s":"b","v":16.8},{"d":"2006-01-15","s":"b","v":18},{"d":"2006-02-15","s":"b","v":16.6},{"d":"2006-03-15","s":"b","v":16.6},{"d":"2006-04-15","s":"b","v":16.6},
      {"d":"2006-05-15","s":"b","v":6.4},{"d":"2006-06-15","s":"b","v":0.8},{"d":"2006-07-15","s":"b","v":-14.7},{"d":"2006-08-15","s":"b","v":-5.9},{"d":"2006-09-15","s":"b","v":-10.5},{"d":"2006-10-15","s":"b","v":-11.4},
      {"d":"2006-11-15","s":"b","v":3.2},{"d":"2006-12-15","s":"b","v":4.3}
    ]
  },
  "resolve": {"scale": {"y": "independent", "fill": "independent", "stroke": "independent", "color": "independent"}},
  "vconcat": [
    {
      "width": 712,
      "height": 416,
      "title": {
        "text": "(a)",
        "subtitle": "\u200b\u00a0\u00a0\u00a0\u00a0\u00a0\u00a0gravity residuals (hourly values and monthly mean)",
        "anchor": "start", "frame": "group", "offset": -30, "dx": 6,
        "font": "Liberation Sans", "fontSize": 17, "fontWeight": "bold", "color": "#231f20",
        "subtitleFont": "Liberation Sans", "subtitleFontSize": 17, "subtitleColor": "#231f20", "subtitlePadding": -17
      },
      "resolve": {"axis": {"y": "independent"}},
      "layer": [
        {
          "data": {"name": "grayA"},
          "mark": {"type": "area", "opacity": 1},
          "encoding": {
            "x": {"field": "d", "type": "temporal", "scale": {"domain": [{"year": 2004, "month": 1, "date": 1}, {"year": 2007, "month": 1, "date": 1}]}, "axis": null},
            "y": {
              "field": "lo", "type": "quantitative", "title": "nm/s²",
              "scale": {"domain": [-40, 70], "nice": false, "zero": false},
              "axis": {
                "orient": "left",
                "values": [-40, -30, -20, -10, 0, 10, 20, 30, 40, 50, 60, 70],
                "tickSize": 22, "labelPadding": 11, "titlePadding": 4, "labelOverlap": false
              }
            },
            "y2": {"field": "hi"},
            "fill": {
              "datum": "G", "type": "nominal",
              "scale": {"domain": ["G", "V3", "V4"], "range": ["#939598", "#1b9ad6", "#f5a19c"]},
              "legend": {
                "orient": "none", "legendX": 5, "legendY": 347, "title": null,
                "symbolType": "M-1,-0.035L1,-0.035L1,0.035L-1,0.035Z", "symbolSize": 1764, "symbolStrokeWidth": 0,
                "clipHeight": 20, "rowPadding": 5, "labelOffset": 10,
                "labelExpr": "datum.value === 'G' ? 'without local hydrological reduction' : datum.value === 'V3' ? 'with local hydrol. reduction, model version 3' : 'with local hydrol. reduction, model version 4'",
                "labelColor": {"expr": "datum.value === 'G' ? '#9d9fa2' : datum.value === 'V3' ? '#1b9ad6' : '#f5a19c'"}
              }
            }
          }
        },
        {
          "data": {"name": "graySp"},
          "mark": {"type": "rule", "color": "#939598", "strokeWidth": 1.2},
          "encoding": {
            "x": {"field": "d", "type": "temporal"},
            "y": {
              "field": "lo", "type": "quantitative",
              "axis": {"orient": "left", "values": [-35, -25, -15, -5, 5, 15, 25, 35, 45, 55, 65], "tickSize": 11, "labels": false, "domain": false, "title": null, "grid": false}
            },
            "y2": {"field": "hi"}
          }
        },
        {
          "data": {"name": "hydA"},
          "mark": {"type": "area", "opacity": 1},
          "encoding": {
            "x": {"field": "d", "type": "temporal"},
            "y": {"field": "lo", "type": "quantitative", "axis": null},
            "y2": {"field": "p"},
            "fill": {"datum": "V4", "type": "nominal"}
          }
        },
        {
          "data": {"name": "hydSp"},
          "mark": {"type": "rule", "color": "#f5a19c", "strokeWidth": 1.2},
          "encoding": {
            "x": {"field": "d", "type": "temporal"},
            "y": {"field": "lo", "type": "quantitative", "axis": null},
            "y2": {"field": "p"}
          }
        },
        {
          "data": {"name": "hydA"},
          "mark": {"type": "area", "opacity": 1},
          "encoding": {
            "x": {"field": "d", "type": "temporal"},
            "y": {"field": "lo", "type": "quantitative", "axis": null},
            "y2": {"field": "hi"},
            "fill": {"datum": "V3", "type": "nominal"}
          }
        },
        {
          "data": {"name": "hydSp"},
          "mark": {"type": "rule", "color": "#1b9ad6", "strokeWidth": 1.2},
          "encoding": {
            "x": {"field": "d", "type": "temporal"},
            "y": {"field": "lo", "type": "quantitative", "axis": null},
            "y2": {"field": "hi"}
          }
        },
        {
          "data": {"name": "mmA"},
          "mark": {"type": "line", "strokeWidth": 2.2},
          "encoding": {
            "x": {"field": "d", "type": "temporal"},
            "y": {"field": "v", "type": "quantitative", "axis": null},
            "stroke": {
              "field": "s", "type": "nominal",
              "scale": {"domain": ["n", "b", "r"], "range": ["#231f20", "#2e3192", "#ed1c24"]},
              "legend": {
                "orient": "none", "legendX": 422, "legendY": 344, "title": null,
                "symbolType": "M-0.8,-0.04L0.8,-0.04L0.8,0.04L-0.8,0.04ZM-0.8,-0.27L-0.739,-0.083L-0.543,-0.083L-0.702,0.032L-0.641,0.218L-0.8,0.103L-0.959,0.218L-0.898,0.032L-1.057,-0.083L-0.861,-0.083ZM0.8,-0.27L0.861,-0.083L1.057,-0.083L0.898,0.032L0.959,0.218L0.8,0.103L0.641,0.218L0.702,0.032L0.543,-0.083L0.739,-0.083Z",
                "symbolSize": 3025, "symbolStrokeWidth": 0,
                "symbolFillColor": {"expr": "datum.value === 'n' ? '#231f20' : datum.value === 'b' ? '#2e3192' : '#ed1c24'"},
                "clipHeight": 20, "rowPadding": 6, "labelOffset": 10,
                "labelExpr": "'monthly mean'",
                "labelColor": {"expr": "datum.value === 'n' ? '#231f20' : datum.value === 'b' ? '#2e3192' : '#ed1c24'"}
              }
            }
          }
        },
        {
          "data": {"name": "mmA"},
          "mark": {"type": "point", "shape": "M0,-1L0.225,-0.309L0.951,-0.309L0.363,0.118L0.588,0.809L0,0.382L-0.588,0.809L-0.363,0.118L-0.951,-0.309L-0.225,-0.309Z", "filled": true, "opacity": 1, "size": 220, "strokeWidth": 0},
          "encoding": {
            "x": {"field": "d", "type": "temporal"},
            "y": {"field": "v", "type": "quantitative", "axis": null},
            "color": {"field": "s", "type": "nominal", "scale": {"domain": ["n", "b", "r"], "range": ["#231f20", "#2e3192", "#ed1c24"]}, "legend": null}
          }
        }
      ]
    },
    {
      "width": 712,
      "height": 340,
      "title": {
        "text": "(b)",
        "subtitle": "\u200b\u00a0\u00a0\u00a0\u00a0\u00a0\u00a0gravity residuals compared to variations derived from GRACE and WGHM",
        "anchor": "start", "frame": "group", "offset": -28, "dx": 6,
        "font": "Liberation Sans", "fontSize": 17, "fontWeight": "bold", "color": "#231f20",
        "subtitleFont": "Liberation Sans", "subtitleFontSize": 17, "subtitleColor": "#231f20", "subtitlePadding": -17
      },
      "resolve": {"axis": {"y": "independent"}},
      "layer": [
        {
          "data": {"name": "mmB"},
          "transform": [{"filter": "datum.s === 'g'"}],
          "mark": {"type": "line", "strokeWidth": 1.1},
          "encoding": {
            "x": {
              "field": "d", "type": "temporal",
              "scale": {"domain": [{"year": 2004, "month": 1, "date": 1}, {"year": 2007, "month": 1, "date": 1}]},
              "axis": {
                "title": null,
                "tickCount": {"interval": "month", "step": 1},
                "labelExpr": "month(datum.value) % 4 === 0 ? timeFormat(datum.value, '%b-%y') : ''",
                "tickSize": {"condition": {"test": "month(datum.value) % 4 === 0", "value": 21}, "value": 11},
                "labelPadding": 6.5, "labelOverlap": false, "labelFlush": false
              }
            },
            "y": {
              "field": "v", "type": "quantitative", "title": "nm/s²",
              "scale": {"domain": [-50, 40], "nice": false, "zero": false},
              "axis": {
                "orient": "left",
                "values": [-50, -40, -30, -20, -10, 0, 10, 20, 30, 40],
                "tickSize": 22, "labelPadding": 11, "titlePadding": 4, "labelOverlap": false
              }
            },
            "stroke": {
              "field": "s", "type": "nominal",
              "scale": {"domain": ["g", "b", "r"], "range": ["#a7a9ac", "#2e3192", "#ed1c24"]},
              "legend": {
                "orient": "none", "legendX": 5, "legendY": 262, "title": null,
                "symbolType": "M-1,-0.035L1,-0.035L1,0.035L-1,0.035Z", "symbolSize": 1849, "symbolStrokeWidth": 0,
                "symbolFillColor": {"expr": "datum.value === 'g' ? '#a7a9ac' : datum.value === 'b' ? '#4db3e6' : '#f7a8a4'"},
                "clipHeight": 20, "rowPadding": 5.3, "labelOffset": 9,
                "labelExpr": "datum.value === 'g' ? 'without local hydrol. reduction' : datum.value === 'b' ? 'with local hydrol. reduction, model version 3' : 'with local hydrol. reduction, model version 4'",
                "labelColor": {"expr": "datum.value === 'g' ? '#a7a9ac' : datum.value === 'b' ? '#2e3192' : '#ed1c24'"}
              }
            }
          }
        },
        {
          "data": {"name": "mmB"},
          "transform": [{"filter": "datum.s === 'g'"}],
          "mark": {"type": "point", "shape": "M0,-1L0.225,-0.309L0.951,-0.309L0.363,0.118L0.588,0.809L0,0.382L-0.588,0.809L-0.363,0.118L-0.951,-0.309L-0.225,-0.309Z", "filled": true, "opacity": 1, "size": 50, "strokeWidth": 0, "color": "#a7a9ac"},
          "encoding": {
            "x": {"field": "d", "type": "temporal"},
            "y": {
              "field": "v", "type": "quantitative",
              "axis": {"orient": "left", "values": [-45, -35, -25, -15, -5, 5, 15, 25, 35], "tickSize": 11, "labels": false, "domain": false, "title": null, "grid": false}
            }
          }
        },
        {
          "data": {"name": "mmB"},
          "transform": [{"filter": "datum.s === 'w' || datum.s === 'l' || datum.s === 'k'"}],
          "mark": {"type": "line", "strokeWidth": 2.5},
          "encoding": {
            "x": {"field": "d", "type": "temporal"},
            "y": {"field": "v", "type": "quantitative", "axis": null},
            "color": {
              "field": "s", "type": "nominal",
              "scale": {"domain": ["w", "l", "k"], "range": ["#231f20", "#8dc63f", "#39b54a"]},
              "legend": {
                "orient": "none", "legendX": 441, "legendY": 261, "title": null,
                "symbolType": "M-0.82,-0.068L0.82,-0.068L0.82,0.068L-0.82,0.068ZM-0.82,-0.22L-0.771,-0.068L-0.611,-0.068L-0.74,0.026L-0.691,0.178L-0.82,0.084L-0.949,0.178L-0.9,0.026L-1.029,-0.068L-0.869,-0.068ZM0.82,-0.22L0.869,-0.068L1.029,-0.068L0.9,0.026L0.949,0.178L0.82,0.084L0.691,0.178L0.74,0.026L0.611,-0.068L0.771,-0.068Z",
                "symbolSize": 1369, "symbolStrokeWidth": 0,
                "symbolFillColor": {"expr": "datum.value === 'w' ? '#231f20' : datum.value === 'l' ? '#8dc63f' : '#39b54a'"},
                "clipHeight": 20, "rowPadding": 6.5, "labelOffset": 6, "labelFontSize": 15,
                "labelExpr": "datum.value === 'w' ? 'WGHM' : datum.value === 'l' ? 'GRACE, ℓfl=13' : 'GRACE, ℓfl=10'",
                "labelColor": {"expr": "datum.value === 'w' ? '#231f20' : datum.value === 'l' ? '#8dc63f' : '#39b54a'"}
              }
            }
          }
        },
        {
          "data": {"name": "mmB"},
          "transform": [{"filter": "datum.s === 'r' || datum.s === 'b'"}],
          "mark": {"type": "line", "strokeWidth": 2.5},
          "encoding": {
            "x": {"field": "d", "type": "temporal"},
            "y": {"field": "v", "type": "quantitative", "axis": null},
            "stroke": {"field": "s", "type": "nominal"}
          }
        },
        {
          "data": {"name": "mmB"},
          "transform": [{"filter": "datum.s !== 'g'"}],
          "mark": {"type": "point", "shape": "M0,-1L0.225,-0.309L0.951,-0.309L0.363,0.118L0.588,0.809L0,0.382L-0.588,0.809L-0.363,0.118L-0.951,-0.309L-0.225,-0.309Z", "filled": true, "opacity": 1, "size": 110, "strokeWidth": 0},
          "encoding": {
            "x": {"field": "d", "type": "temporal"},
            "y": {"field": "v", "type": "quantitative", "axis": null},
            "fill": {"field": "s", "type": "nominal", "scale": {"domain": ["w", "l", "k", "r", "b"], "range": ["#231f20", "#8dc63f", "#39b54a", "#ed1c24", "#2e3192"]}, "legend": null}
          }
        }
      ]
    }
  ]
}
